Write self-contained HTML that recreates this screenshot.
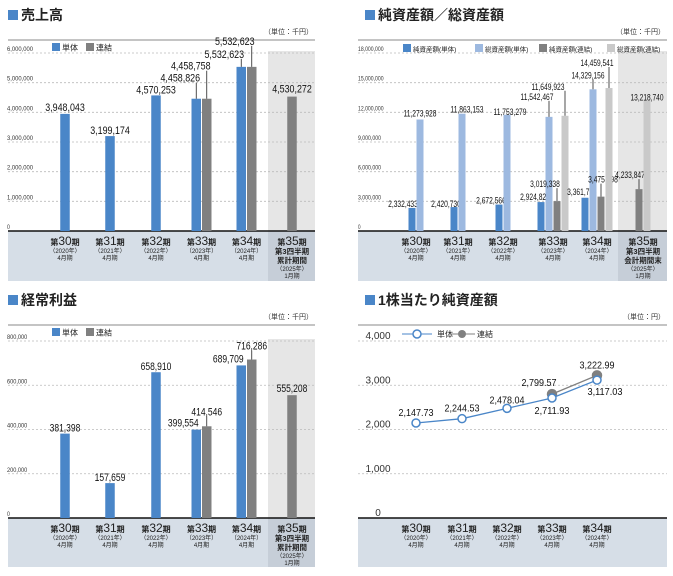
<!DOCTYPE html>
<html><head><meta charset="utf-8"><style>
html,body{margin:0;padding:0;background:#fff;}
svg{display:block;font-family:"Liberation Sans","Noto Sans CJK JP",sans-serif;}
</style></head><body>
<svg id="c" width="673" height="576" viewBox="0 0 673 576" xmlns="http://www.w3.org/2000/svg"></svg>
<script>
// ---- data ----
const periods = ["30","31","32","33","34","35"];
const years = ["2020","2021","2022","2023","2024","2025"];
const salesTick = ["0","1,000,000","2,000,000","3,000,000","4,000,000","5,000,000","6,000,000"];
const salesSingle = [3948043,3199174,4570253,4458826,5532623,null];
const salesConsol = [null,null,null,4458758,5532623,4530272];
const assetTick = ["0","3,000,000","6,000,000","9,000,000","12,000,000","15,000,000","18,000,000"];
const netSingle = [2332433,2420730,2672566,2924820,3361716,null];
const totalSingle = [11273928,11863153,11753279,11542467,14329156,null];
const netConsol = [null,null,null,3019338,3475998,4233847];
const totalConsol = [null,null,null,11649923,14459541,13218740];
const profitTick = ["0","200,000","400,000","600,000","800,000"];
const profitSingle = [381398,157659,658910,399554,689709,null];
const profitConsol = [null,null,null,414546,716286,555208];
const bpsTick = ["0","1,000","2,000","3,000","4,000"];
const bpsSingle = [2147.73,2244.53,2478.04,2711.93,3117.03];
const bpsConsol = [null,null,null,2799.57,3222.99];

const NS="http://www.w3.org/2000/svg";
const svg=document.getElementById('c');
function el(tag,attrs,parent,text){const e=document.createElementNS(NS,tag);for(const k in attrs)e.setAttribute(k,attrs[k]);if(text!==undefined)e.textContent=text;(parent||svg).appendChild(e);return e;}
function fmt(v,dec){return v.toLocaleString('en-US',{minimumFractionDigits:dec,maximumFractionDigits:dec});}
const BLUE="#4a86c8",GRAY="#808080",LBLUE="#9db9e0",LGRAY="#c9c9c9";

function frame(p){
  // title
  const sq=el('rect',{x:p.tx,y:p.ty-10,width:10,height:10,fill:BLUE});
  
  
  const t=el('text',{x:p.tx+13,y:p.ty,'font-size':14,'font-weight':'bold',fill:'#222'},null,p.title);
  
  
  const u=el('text',{x:p.x1-2,y:p.top-6,'font-size':7,'text-anchor':'end',fill:'#333'},null,p.unit);
  
  
  el('line',{x1:p.x0,x2:p.x1,y1:p.top,y2:p.top,stroke:'#888','stroke-width':1});
  // band
  const b=el('rect',{x:p.x0,y:p.base,width:p.x1-p.x0,height:p.bandH,fill:'#d6dee7'});
  
  
  if(p.shade){
    const s=el('rect',{x:p.shade,y:p.y(p.max)-2,width:p.x1-p.shade,height:p.base-p.y(p.max)+2,fill:'#e6e6e6'});
    
    
    el('rect',{x:p.shade,y:p.base,width:p.x1-p.shade,height:p.bandH,fill:'#c6ced8'});
  }
  // grid & ticks
  p.ticks.forEach((lab,i)=>{
    const v=p.max*i/(p.ticks.length-1);const y=p.y(v);
    if(i>0){const g=el('line',{x1:p.x0,x2:p.x1,y1:y,y2:y,stroke:'#bbb','stroke-dasharray':'2,2','stroke-width':0.8});
      }
    const tx=el('text',{x:p.tickX,y:y-2,'font-size':p.tickFs,fill:'#333','text-anchor':p.tickAnchor||'start'},null,lab);
    if(p.tickLen)tx.setAttribute('textLength',p.tickLen*lab.length/9),tx.setAttribute('lengthAdjust','spacingAndGlyphs');
    
    
  });
  el('line',{x1:p.x0,x2:p.x1,y1:p.base,y2:p.base,stroke:'#111','stroke-width':1.5});
  // categories
  p.cx.forEach((cx,i)=>{
    const g=el('g',{});
    
    
    const t1=el('text',{x:cx,y:p.base+14,'text-anchor':'middle','font-weight':'bold',fill:'#222','font-size':8},g);
    el('tspan',{},t1,'第');el('tspan',{'font-size':12,'font-weight':'normal'},t1,periods[i]);el('tspan',{},t1,'期');
    if(i<5){
      el('text',{x:cx,y:p.base+22,'text-anchor':'middle','font-size':6,fill:'#222'},g,'（'+years[i]+'年）');
      el('text',{x:cx,y:p.base+29,'text-anchor':'middle','font-size':6,fill:'#222'},g,'4月期');
    }else{
      el('text',{x:cx,y:p.base+23,'text-anchor':'middle','font-size':7.5,'font-weight':'bold',fill:'#222'},g,'第3四半期');
      el('text',{x:cx,y:p.base+32,'text-anchor':'middle','font-size':7.5,'font-weight':'bold',fill:'#222'},g,p.q3);
      el('text',{x:cx,y:p.base+40,'text-anchor':'middle','font-size':6,fill:'#222'},g,'（'+years[i]+'年）');
      el('text',{x:cx,y:p.base+47,'text-anchor':'middle','font-size':6,fill:'#222'},g,'1月期');
    }
  });
}
function legendBox(x,y,color,label,fs,name){
  const g=el('g',{});
  
  
  el('rect',{x:x,y:y,width:8,height:8,fill:color},g);
  el('text',{x:x+10,y:y+7.5,'font-size':fs,fill:'#222'},g,label);
}
function bars(p,series){
  p.cx.forEach((cx,i)=>{
    const present=series.filter(s=>s.data[i]!=null);
    const tot=present.length*p.bw+(present.length-1)*p.gap;
    present.forEach((s,j)=>{
      const v=s.data[i];const x=cx-tot/2+j*(p.bw+p.gap);const y=p.y(v);
      const r=el('rect',{x:x,y:y,width:p.bw,height:p.base-y,fill:s.color});
      
      
      const L=s.lab[i]||[0,2];const bc=x+p.bw/2;const ly=y-L[1];
      if(L[1]>=8){el('line',{x1:bc,x2:bc,y1:y,y2:ly+1,stroke:'#222','stroke-width':0.8});}
      const t=el('text',{x:bc+L[0],y:ly,'text-anchor':'middle','font-size':p.vfs,fill:'#111',textLength:p.cw*fmt(v,0).length,lengthAdjust:'spacingAndGlyphs'},null,fmt(v,0));
      
      
    });
  });
}
const cxL=[65,110,156,201.5,246.5,292];
// ---- panel 1 ----
{const p={tx:8,ty:20,title:'売上高',unit:'（単位：千円）',x0:8,x1:315,top:40,base:231,bandH:50,max:6000000,ticks:salesTick,tickX:7,tickFs:6.5,tickLen:26,shade:268,cx:cxL,q3:'累計期間',bw:9.5,gap:1,vfs:11,cw:4.4};
 p.y=v=>p.base-v/p.max*178;frame(p);
 legendBox(52,43,BLUE,'単体',8,'legend-single');legendBox(86,43,GRAY,'連結',8,'legend-consolidated');
 bars(p,[{name:'single',data:salesSingle,color:BLUE,lab:[[0,3],[0,2],[0,2],[-16,17],[-17,9],null]},
         {name:'consolidated',data:salesConsol,color:GRAY,lab:[null,null,null,[-16,29],[-17,22],[0,4]]}]);}
// ---- panel 2 ----
{const p={tx:365,ty:20,title:'純資産額／総資産額',unit:'（単位：千円）',x0:358,x1:667,top:40,base:231,bandH:50,max:18000000,ticks:assetTick,tickX:358,tickFs:6,tickLen:23,shade:618,cx:[416,458,503,553,597,643],q3:'会計期間末',bw:7,gap:1,vfs:9,cw:3.3};
 p.y=v=>p.base-v/p.max*178;frame(p);
 legendBox(403,44,BLUE,'純資産額(単体)',6.5,'legend-net-single');legendBox(475,44,LBLUE,'総資産額(単体)',6.5,'legend-total-single');
 legendBox(539,44,GRAY,'純資産額(連結)',6.5,'legend-net-consolidated');legendBox(607,44,LGRAY,'総資産額(連結)',6.5,'legend-total-consolidated');
 bars(p,[{name:'net-single',data:netSingle,color:BLUE,lab:[[-9,1],[-8,0],[-8,1],[-6,2],[-3,3],null]},
         {name:'total-single',data:totalSingle,color:LBLUE,lab:[[0,3],[5,1],[3,0],[-12,17],[-5,11],null]},
         {name:'net-consolidated',data:netConsol,color:GRAY,lab:[null,null,null,[-12,14],[2,14],[-9,11]]},
         {name:'total-consolidated',data:totalConsol,color:LGRAY,lab:[null,null,null,[-17,26],[-12,22],[0,0]]}]);}
// ---- panel 3 ----
{const p={tx:8,ty:305,title:'経常利益',unit:'（単位：千円）',x0:8,x1:315,top:325,base:518,bandH:49,max:800000,ticks:profitTick,tickX:7,tickFs:6.5,tickLen:26,shade:268,cx:cxL,q3:'累計期間',bw:9.5,gap:1,vfs:11,cw:4.4};
 p.y=v=>p.base-v/p.max*177;frame(p);
 legendBox(52,328,BLUE,'単体',8,'legend-single');legendBox(86,328,GRAY,'連結',8,'legend-consolidated');
 bars(p,[{name:'single',data:profitSingle,color:BLUE,lab:[[0,2],[0,2],[0,2],[-13,3],[-13,3],null]},
         {name:'consolidated',data:profitConsol,color:GRAY,lab:[null,null,null,[0,11],[0,10],[0,3]]}]);}
// ---- panel 4 ----
{const p={tx:365,ty:305,title:'1株当たり純資産額',unit:'（単位：円）',x0:358,x1:667,top:325,base:518,bandH:49,max:4000,ticks:bpsTick,tickX:378,tickFs:10,tickAnchor:'middle',cx:[416,462,507,552,597]};
 p.y=v=>p.base-v/p.max*177;frame(p);
 const lg=el('g',{});
 el('line',{x1:402,x2:432,y1:334,y2:334,stroke:BLUE,'stroke-width':1},lg);el('circle',{cx:417,cy:334,r:4,fill:'#fff',stroke:BLUE,'stroke-width':1.5},lg);
 el('text',{x:437,y:337,'font-size':8,fill:'#222'},lg,'単体');
 el('line',{x1:450,x2:475,y1:334,y2:334,stroke:GRAY,'stroke-width':1},lg);el('circle',{cx:462,cy:334,r:4,fill:GRAY},lg);
 el('text',{x:477,y:337,'font-size':8,fill:'#222'},lg,'連結');
 const labS=[[0,-7],[0,-7],[0,-5],[0,16],[8,15]];const labC=[null,null,null,[-13,-8],[0,-7]];
 [[bpsConsol,GRAY,'consolidated',labC],[bpsSingle,BLUE,'single',labS]].forEach(([d,c,n,lab])=>{
   const pts=[];d.forEach((v,i)=>{if(v!=null)pts.push([p.cx[i],p.y(v),v,i]);});
   const ln=el('polyline',{points:pts.map(q=>q[0]+','+q[1]).join(' '),fill:'none',stroke:c,'stroke-width':1.3});
   
   
   pts.forEach(q=>{
     const ci=el('circle',{cx:q[0],cy:q[1],r:n=='single'?4:4.5,fill:n=='single'?'#fff':GRAY,stroke:c,'stroke-width':1.5});
     
     
     const L=lab[q[3]];
     const t=el('text',{x:q[0]+L[0],y:q[1]+L[1],'text-anchor':'middle','font-size':10.5,fill:'#111',textLength:35,lengthAdjust:'spacingAndGlyphs'},null,fmt(q[2],2));
     
     
   });
 });}
</script>
</body></html>
